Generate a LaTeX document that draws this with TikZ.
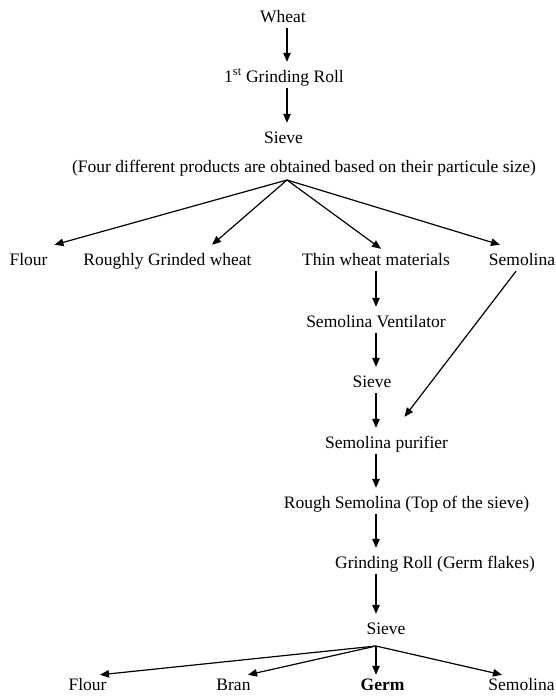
\documentclass[tikz,border=0pt]{standalone}
\usepackage{fontspec}
\setmainfont{Liberation Serif}
\usetikzlibrary{arrows.meta,calc}
\begin{document}
\begin{tikzpicture}[x=1pt,y=-1pt,
  lbl/.style={anchor=base,inner xsep=1pt,inner ysep=5pt,text height=15pt,text depth=1pt,font=\fontsize{17.5}{20}\selectfont},
  arr/.style={line width=1.2pt,-{Triangle[length=9pt,width=7.5pt]}},
  ln/.style={line width=1.2pt}]
\useasboundingbox (0,0) rectangle (555,696);
\coordinate (axA) at (287,0);
\coordinate (axB) at (376,0);
% top chain
\node[lbl] (wheat) at (283,22) {Wheat};
\node[lbl] (roll1) at (284,82) {1\textsuperscript{st} Grinding Roll};
\node[lbl] (sieve1) at (283.5,143) {Sieve};
\node[lbl] (paren) at (304,172) {(Four different products are obtained based on their particule size)};
\coordinate (s1) at (287,180);
% row 1
\node[lbl] (flour1) at (28.5,265) {Flour};
\node[lbl] (rough1) at (167.5,265) {Roughly Grinded wheat};
\node[lbl] (thin1) at (376,265) {Thin wheat materials};
\node[lbl] (semo1) at (522,265) {Semolina};
% middle chain
\node[lbl] (vent) at (376,327) {Semolina Ventilator};
\node[lbl] (sieve2) at (372,387) {Sieve};
\node[lbl] (purif) at (386.5,448) {Semolina purifier};
\node[lbl] (roughs) at (406.5,508) {Rough Semolina (Top of the sieve)};
\node[lbl] (groll) at (435,568) {Grinding Roll (Germ flakes)};
\node[lbl] (sieve3) at (386,634) {Sieve};
\coordinate (s2) at (376,646);
% bottom row
\node[lbl] (flour2) at (87.5,690) {Flour};
\node[lbl] (bran) at (233.5,690) {Bran};
\node[lbl] (germ) at (382.5,690) {\bfseries Germ};
\node[lbl] (semo2) at (521.5,690) {Semolina};
% connectors
\draw[arr] (wheat.south -| axA) -- (roll1.north -| axA);
\draw[arr] (roll1.south -| axA) -- (sieve1.north -| axA);
\draw[arr] (s1) -- ([xshift=26pt]flour1.north);
\draw[arr] (s1) -- ([xshift=44.5pt]rough1.north);
\draw[arr] (s1) -- ([xshift=5pt,yshift=-4pt]thin1.north);
\draw[arr] (s1) -- ([xshift=-22pt]semo1.north);
\draw[arr] (thin1.south -| axB) -- (vent.north -| axB);
\draw[arr] (vent.south -| axB) -- (sieve2.north -| axB);
\draw[arr] (sieve2.south -| axB) -- (purif.north -| axB);
\draw[arr] ([xshift=-6pt]semo1.south) -- ([xshift=18pt,yshift=11pt]purif.north);
\draw[arr] (purif.south -| axB) -- (roughs.north -| axB);
\draw[arr] (roughs.south -| axB) -- (groll.north -| axB);
\draw[arr] (groll.south -| axB) -- (sieve3.north -| axB);
\draw[arr] (s2) -- ([xshift=12.5pt,yshift=-5pt]flour2.north);
\draw[arr] (s2) -- ([xshift=14.5pt,yshift=-5pt]bran.north);
\draw[arr] (s2) -- ([yshift=-5pt]germ.north -| axB);
\draw[arr] (s2) -- ([xshift=-19.5pt,yshift=-5pt]semo2.north);
\end{tikzpicture}
\end{document}
